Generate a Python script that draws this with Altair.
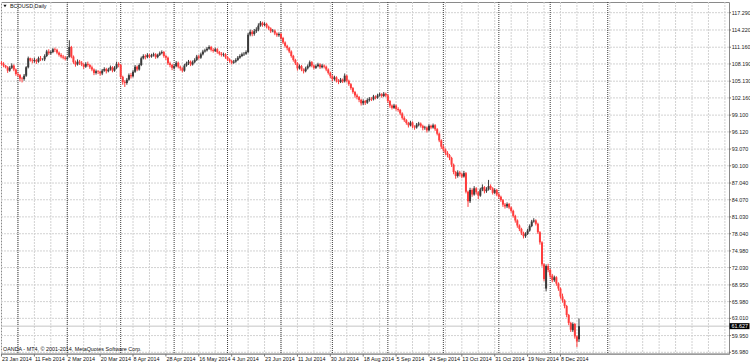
import altair as alt
import pandas as pd

# ---------------- data ----------------
OPEN = [
    108.4, 108.2, 107.9, 107.6, 107.0, 107.5, 107.9, 107.2, 106.4, 106.2,
    105.6, 105.5, 106.1, 107.6, 109.2, 108.8, 108.7, 108.9, 108.6, 109.2,
    109.0, 109.0, 109.6, 110.4, 110.1, 110.3, 110.8, 110.7, 110.2, 109.8,
    109.5, 109.3, 109.1, 109.4, 111.2, 109.5, 108.5, 108.1, 108.6, 108.4,
    108.1, 107.7, 108.2, 108.0, 107.6, 107.2, 106.6, 106.9, 106.8, 106.5,
    107.0, 107.3, 106.9, 107.2, 107.6, 107.0, 107.5, 108.2, 108.0, 105.9,
    105.0, 104.8, 105.4, 106.2, 106.0, 106.8, 107.7, 107.2, 108.0, 109.2,
    109.6, 109.4, 109.8, 109.5, 109.7, 109.9, 109.4, 109.8, 110.1, 110.3,
    109.6, 109.3, 108.3, 108.0, 107.5, 107.8, 108.4, 107.7, 107.4, 107.0,
    107.9, 108.3, 108.6, 108.1, 108.5, 108.9, 109.5, 109.3, 109.9, 110.4,
    110.6, 110.9, 111.2, 110.7, 110.5, 110.8, 110.3, 110.0, 109.8, 109.9,
    109.4, 109.0, 108.7, 108.4, 108.6, 108.9, 109.3, 109.6, 109.9, 110.0,
    110.3, 113.4, 113.9, 113.5, 114.0, 114.3, 115.0, 115.5, 115.1, 115.3,
    114.8, 114.5, 114.0, 114.1, 113.6, 113.3, 113.5, 112.8, 112.0, 111.4,
    111.0, 110.4, 109.6, 108.9, 108.3, 107.4, 107.8, 107.2, 106.9, 107.4,
    107.8, 108.5, 107.9, 107.5, 107.8, 108.1, 107.6, 107.9, 107.7, 107.2,
    106.6, 106.0, 105.5, 105.8, 105.2, 105.0, 105.4, 105.1, 106.1, 105.2,
    104.6, 103.9, 103.2, 102.6, 102.3, 101.8, 101.2, 101.6, 101.3, 101.8,
    102.0, 101.9, 102.4, 102.2, 102.6, 102.8, 102.5, 102.9, 102.6, 101.6,
    100.8, 100.4, 100.8, 100.2, 100.0, 99.4, 98.6, 98.2, 97.7, 97.3,
    97.8, 97.1, 96.9, 97.4, 97.6, 97.2, 96.8, 96.9, 96.4, 97.2,
    96.9, 97.3, 96.6, 95.8, 94.6, 93.5, 93.0, 92.4, 92.0, 91.5,
    90.3, 89.0, 88.3, 88.9, 88.6, 88.2, 88.8, 85.5, 83.8, 85.8,
    85.0, 86.1, 85.4, 84.8, 85.9, 86.3, 85.6, 85.9, 86.5, 86.1,
    85.3, 85.8, 85.0, 84.6, 84.0, 83.2, 82.9, 83.3, 82.7, 82.1,
    81.2, 80.4, 79.5, 78.9, 78.2, 77.6, 78.0, 78.6, 79.4, 80.2,
    80.4, 79.8, 78.3, 76.5, 72.6, 68.3, 72.3, 71.6, 70.6, 69.8,
    70.3, 69.2, 68.3, 66.9, 66.2, 65.2, 63.6, 62.2, 60.9, 62.0,
    59.8, 59.3,
]
HIGH = [
    108.7, 108.5, 108.0, 107.8, 107.8, 108.3, 108.1, 107.4, 106.7, 106.4,
    105.9, 106.4, 107.8, 109.5, 109.3, 109.2, 109.3, 109.1, 109.5, 109.6,
    109.2, 109.9, 110.7, 110.8, 110.6, 111.0, 111.1, 110.9, 110.4, 110.1,
    109.8, 109.6, 109.5, 112.4, 111.4, 109.7, 108.8, 109.0, 108.9, 108.7,
    108.3, 108.5, 108.6, 108.2, 107.9, 107.4, 107.2, 107.1, 107.0, 107.3,
    107.6, 107.5, 107.5, 107.9, 107.8, 107.8, 108.6, 108.5, 108.2, 106.1,
    105.3, 105.7, 106.5, 106.6, 107.1, 108.0, 107.9, 108.3, 109.5, 109.9,
    109.9, 110.1, 110.0, 110.0, 110.2, 110.1, 110.0, 110.4, 110.6, 110.5,
    109.8, 109.5, 108.6, 108.2, 108.1, 108.7, 108.6, 107.9, 107.6, 108.2,
    108.6, 108.9, 108.8, 108.8, 109.2, 109.8, 109.8, 110.2, 110.7, 110.9,
    111.2, 111.5, 111.4, 111.0, 111.1, 111.0, 110.5, 110.3, 110.2, 110.1,
    109.6, 109.2, 108.9, 108.9, 109.2, 109.6, 109.9, 110.2, 110.3, 110.6,
    113.7, 114.3, 114.2, 114.4, 114.7, 115.4, 115.8, 115.7, 115.6, 115.5,
    115.0, 114.7, 114.4, 114.3, 113.8, 113.8, 113.7, 113.0, 112.2, 111.6,
    111.2, 110.6, 109.8, 109.1, 108.5, 108.1, 108.0, 107.4, 107.7, 108.1,
    108.8, 108.7, 108.1, 108.1, 108.4, 108.3, 108.2, 108.1, 107.9, 107.4,
    106.8, 106.2, 106.1, 106.0, 105.5, 105.7, 105.6, 106.5, 106.3, 105.4,
    104.8, 104.1, 103.4, 102.9, 102.5, 102.0, 101.9, 101.8, 102.1, 102.3,
    102.3, 102.7, 102.6, 102.9, 103.1, 103.0, 103.2, 103.1, 102.8, 101.8,
    101.0, 101.1, 101.0, 100.5, 100.2, 99.6, 98.9, 98.4, 97.9, 98.1,
    98.0, 97.3, 97.7, 97.9, 97.8, 97.4, 97.2, 97.1, 97.5, 97.4,
    97.6, 97.5, 96.8, 96.0, 94.8, 93.8, 93.2, 92.7, 92.2, 91.7,
    90.5, 89.2, 89.3, 89.2, 88.9, 89.2, 89.0, 85.7, 86.2, 86.1,
    86.5, 86.3, 85.6, 86.2, 86.8, 86.5, 86.3, 87.6, 86.8, 86.3,
    86.1, 86.0, 85.3, 84.8, 84.2, 83.5, 83.6, 83.5, 82.9, 82.3,
    81.4, 80.6, 79.7, 79.1, 78.4, 78.3, 78.9, 79.7, 80.5, 80.8,
    80.6, 80.0, 78.5, 76.7, 72.8, 72.6, 72.7, 71.8, 70.9, 70.6,
    70.5, 69.4, 68.5, 67.4, 66.4, 65.4, 63.8, 62.4, 62.3, 62.2,
    60.0, 63.0,
]
LOW = [
    107.9, 107.6, 107.4, 106.6, 106.8, 107.3, 106.9, 106.1, 105.9, 105.1,
    104.9, 105.2, 105.9, 107.4, 108.6, 108.3, 108.4, 108.2, 108.4, 108.7,
    108.8, 108.7, 109.4, 109.8, 109.8, 110.1, 110.3, 109.9, 109.5, 109.2,
    109.0, 108.8, 108.9, 109.3, 109.2, 108.2, 107.7, 107.9, 108.0, 107.8,
    107.3, 107.5, 107.7, 107.3, 106.9, 106.2, 106.3, 106.4, 106.1, 106.2,
    106.8, 106.5, 106.7, 107.0, 106.7, 106.8, 107.3, 107.6, 105.6, 104.5,
    104.1, 104.5, 105.2, 105.6, 105.8, 106.6, 106.9, 107.0, 107.8, 109.0,
    109.0, 109.2, 109.2, 109.3, 109.5, 109.1, 109.2, 109.6, 109.9, 109.3,
    108.9, 108.0, 107.6, 107.1, 107.2, 107.6, 107.4, 107.0, 106.7, 106.8,
    107.7, 108.0, 107.8, 107.9, 108.3, 108.7, 109.0, 109.1, 109.7, 110.2,
    110.4, 110.7, 110.4, 110.2, 110.3, 110.0, 109.7, 109.5, 109.5, 109.1,
    108.7, 108.4, 108.1, 108.2, 108.4, 108.7, 109.1, 109.4, 109.6, 109.8,
    110.1, 113.1, 113.1, 113.2, 113.7, 114.0, 114.8, 114.8, 114.9, 114.5,
    114.2, 113.7, 113.8, 113.3, 113.0, 113.0, 112.5, 111.7, 111.1, 110.6,
    110.1, 109.3, 108.6, 108.0, 107.0, 107.2, 106.9, 106.5, 106.7, 107.2,
    107.6, 107.6, 107.2, 107.3, 107.6, 107.3, 107.4, 107.4, 106.9, 106.3,
    105.7, 105.1, 105.2, 104.9, 104.6, 104.8, 104.8, 104.9, 104.9, 104.3,
    103.6, 102.9, 102.2, 101.9, 101.4, 100.8, 100.9, 100.9, 101.1, 101.5,
    101.6, 101.7, 101.9, 102.0, 102.4, 102.2, 102.3, 102.3, 101.3, 100.4,
    100.1, 100.2, 99.9, 99.7, 99.1, 98.3, 97.9, 97.4, 96.9, 97.1,
    96.8, 96.5, 96.7, 97.1, 96.9, 96.4, 96.5, 96.0, 96.2, 96.6,
    96.7, 96.3, 95.5, 94.3, 93.1, 92.6, 92.0, 91.6, 91.1, 89.9,
    88.6, 87.8, 88.0, 88.2, 87.9, 88.0, 85.2, 82.8, 83.5, 84.6,
    84.8, 85.0, 84.2, 84.6, 85.6, 85.2, 85.3, 85.7, 85.8, 85.0,
    85.1, 84.7, 84.2, 83.7, 82.8, 82.5, 82.6, 82.4, 81.8, 80.9,
    80.0, 79.1, 78.5, 77.8, 77.2, 77.3, 77.8, 78.4, 79.2, 80.0,
    79.5, 78.0, 76.1, 72.2, 69.6, 67.8, 71.2, 70.2, 69.4, 69.5,
    68.8, 67.9, 66.5, 65.8, 64.8, 63.2, 61.8, 60.6, 60.6, 59.4,
    57.9, 58.8,
]
CLOSE = [
    108.2, 107.9, 107.6, 107.0, 107.5, 107.9, 107.2, 106.4, 106.2, 105.6,
    105.5, 106.1, 107.6, 109.2, 108.8, 108.7, 108.9, 108.6, 109.2, 109.0,
    109.0, 109.6, 110.4, 110.1, 110.3, 110.8, 110.7, 110.2, 109.8, 109.5,
    109.3, 109.1, 109.3, 111.2, 109.5, 108.5, 108.1, 108.6, 108.4, 108.1,
    107.7, 108.2, 108.0, 107.6, 107.2, 106.6, 106.9, 106.8, 106.5, 107.0,
    107.3, 106.9, 107.2, 107.6, 107.0, 107.5, 108.2, 108.0, 105.9, 105.0,
    104.8, 105.4, 106.2, 106.0, 106.8, 107.7, 107.2, 108.0, 109.2, 109.6,
    109.4, 109.8, 109.5, 109.7, 109.9, 109.4, 109.8, 110.1, 110.3, 109.6,
    109.3, 108.3, 108.0, 107.5, 107.8, 108.4, 107.7, 107.4, 107.0, 107.9,
    108.3, 108.6, 108.1, 108.5, 108.9, 109.5, 109.3, 109.9, 110.4, 110.6,
    110.9, 111.2, 110.7, 110.5, 110.8, 110.3, 110.0, 109.8, 109.9, 109.4,
    109.0, 108.7, 108.4, 108.6, 108.9, 109.3, 109.6, 109.9, 110.0, 110.3,
    113.4, 113.9, 113.5, 114.0, 114.3, 115.0, 115.5, 115.1, 115.3, 114.8,
    114.5, 114.0, 114.1, 113.6, 113.3, 113.5, 112.8, 112.0, 111.4, 111.0,
    110.4, 109.6, 108.9, 108.3, 107.4, 107.8, 107.2, 106.9, 107.4, 107.8,
    108.5, 107.9, 107.5, 107.8, 108.1, 107.6, 107.9, 107.7, 107.2, 106.6,
    106.0, 105.5, 105.8, 105.2, 105.0, 105.4, 105.1, 106.1, 105.2, 104.6,
    103.9, 103.2, 102.6, 102.3, 101.8, 101.2, 101.6, 101.3, 101.8, 102.0,
    101.9, 102.4, 102.2, 102.6, 102.8, 102.5, 102.9, 102.6, 101.6, 100.8,
    100.4, 100.8, 100.2, 100.0, 99.4, 98.6, 98.2, 97.7, 97.3, 97.8,
    97.1, 96.9, 97.4, 97.6, 97.2, 96.8, 96.9, 96.4, 97.2, 96.9,
    97.3, 96.6, 95.8, 94.6, 93.5, 93.0, 92.4, 92.0, 91.5, 90.3,
    89.0, 88.3, 88.9, 88.6, 88.2, 88.8, 85.5, 83.8, 85.8, 85.0,
    86.1, 85.4, 84.8, 85.9, 86.3, 85.6, 85.9, 86.5, 86.1, 85.3,
    85.8, 85.0, 84.6, 84.0, 83.2, 82.9, 83.3, 82.7, 82.1, 81.2,
    80.4, 79.5, 78.9, 78.2, 77.6, 78.0, 78.6, 79.4, 80.2, 80.4,
    79.8, 78.3, 76.5, 72.6, 70.0, 72.3, 71.6, 70.6, 69.8, 70.3,
    69.2, 68.3, 66.9, 66.2, 65.2, 63.6, 62.2, 61.0, 62.0, 59.8,
    58.9, 61.627,
]

Y_TICKS = [117.29, 114.22, 111.16, 108.19, 105.13, 102.16, 99.10, 96.12,
           93.07, 90.10, 87.04, 84.07, 81.03, 78.04, 74.98, 72.03, 68.95,
           65.98, 63.01, 59.95, 56.98]
DATE_LABELS = ["23 Jan 2014", "11 Feb 2014", "2 Mar 2014", "20 Mar 2014",
               "8 Apr 2014", "28 Apr 2014", "16 May 2014", "4 Jun 2014",
               "23 Jun 2014", "11 Jul 2014", "30 Jul 2014", "18 Aug 2014",
               "5 Sep 2014", "24 Sep 2014", "13 Oct 2014", "31 Oct 2014",
               "19 Nov 2014", "8 Dec 2014"]
LABEL_STEP = 16          # bars between date labels
GRID_STEP = 8            # bars between vertical grid lines
MONTH_SEP_BARS = [8, 32, 58, 84, 110, 136, 161, 188, 215, 242, 267, 295]
LAST_PRICE = 61.627
SYMBOL = "BCOUSD,Daily"
COPYRIGHT = "OANDA - MT4, \u00a9 2001-2014, MetaQuotes Software Corp."

# ---------------- frames ----------------
n = len(CLOSE)
df = pd.DataFrame({"bar": list(range(n)), "open": OPEN, "high": HIGH,
                   "low": LOW, "close": CLOSE})
df["dir"] = ["up" if c >= o else "down" for o, c in zip(df["open"], df["close"])]

labels_df = pd.DataFrame({"bar": [i * LABEL_STEP for i in range(len(DATE_LABELS))],
                          "label": DATE_LABELS})
yticks_df = pd.DataFrame({"p": Y_TICKS})

FONT = "Liberation Sans"
FS = 5.4
W, H = 728, 352
xscale = alt.Scale(domain=[-0.243, 354.0], nice=False, zero=False)
yscale = alt.Scale(domain=[56.68, 119.19], nice=False, zero=False)


def X(field):
    return alt.X(field, scale=xscale, axis=None)


def Y(field):
    return alt.Y(field, scale=yscale, axis=None)


hgrid = alt.Chart(yticks_df).mark_rule(
    color="#d2d2d2", strokeWidth=1, strokeDash=[2, 1]
).encode(y=Y("p:Q"))

vgrid = alt.Chart(pd.DataFrame({"b": list(range(0, 355, GRID_STEP))})).mark_rule(
    color="#d2d2d2", strokeWidth=1, strokeDash=[2, 1]
).encode(x=X("b:Q"))

seps = alt.Chart(pd.DataFrame({"b": MONTH_SEP_BARS})).mark_rule(
    color="#3c3c3c", strokeWidth=1, strokeDash=[1, 1]
).encode(x=X("b:Q"))

last_line = alt.Chart(pd.DataFrame({"p": [LAST_PRICE]})).mark_rule(
    color="#c4c4c4", strokeWidth=1
).encode(y=Y("p:Q"))

wick_col = alt.Color("dir:N", scale=alt.Scale(domain=["up", "down"],
                                              range=["#3a3a3a", "#ff3c3c"]), legend=None)
body_col = alt.Color("dir:N", scale=alt.Scale(domain=["up", "down"],
                                              range=["#2a7a2a", "#ff0f0f"]), legend=None)

wicks = alt.Chart(df).mark_rule(strokeWidth=1).encode(
    x=X("bar:Q"), y=Y("low:Q"), y2="high:Q", color=wick_col)

bodies = alt.Chart(df).mark_rule(strokeWidth=2).encode(
    x=X("bar:Q"), y=Y("open:Q"), y2="close:Q", color=body_col)

# bottom axis line, ticks and date labels
bottom_line = alt.Chart(pd.DataFrame({"p": [0]})).mark_rule(
    color="#a0a0a0", strokeWidth=1.5
).encode(x=alt.value(0), x2=alt.value(W), y=alt.value(H))

x_ticks = alt.Chart(labels_df).mark_rule(color="#777", strokeWidth=1).encode(
    x=X("bar:Q"), y=alt.value(H), y2=alt.value(H + 2.5))

x_labels = alt.Chart(labels_df).mark_text(
    align="left", baseline="middle", fontSize=FS, font=FONT, color="#111", dx=0.5
).encode(x=X("bar:Q"), y=alt.value(H + 4.8), text="label:N")

# right price axis ticks and labels
y_ticks = alt.Chart(yticks_df).mark_rule(color="#777", strokeWidth=1).encode(
    y=Y("p:Q"), x=alt.value(W), x2=alt.value(W + 2))

y_labels = alt.Chart(yticks_df).mark_text(
    align="left", baseline="middle", fontSize=FS, font=FONT, color="#222"
).encode(y=Y("p:Q"), x=alt.value(W + 2.7), text=alt.Text("p:Q", format=".3f"))

title_tri = alt.Chart(pd.DataFrame({"t": [SYMBOL]})).mark_point(
    shape="triangle-down", filled=True, color="#111", size=10, opacity=1
).encode(x=alt.value(4), y=alt.value(4))

title_txt = alt.Chart(pd.DataFrame({"t": [SYMBOL]})).mark_text(
    align="left", baseline="middle", fontSize=FS, font=FONT, color="#111"
).encode(text="t:N", x=alt.value(9), y=alt.value(4))

copy_txt = alt.Chart(pd.DataFrame({"t": [COPYRIGHT]})).mark_text(
    align="left", baseline="middle", fontSize=FS, font=FONT, color="#111"
).encode(text="t:N", x=alt.value(2), y=alt.value(347))

price_box = alt.Chart(pd.DataFrame({"p": [LAST_PRICE]})).mark_point(
    shape="M-1,-0.3L1,-0.3L1,0.3L-1,0.3Z", size=400, filled=True,
    color="#000", opacity=1
).encode(x=alt.value(738.5), y=Y("p:Q"))

price_txt = alt.Chart(pd.DataFrame({"p": [LAST_PRICE]})).mark_text(
    align="left", baseline="middle", fontSize=FS, font=FONT, color="#fff"
).encode(x=alt.value(730.5), y=Y("p:Q"), text=alt.Text("p:Q", format=".3f"))

chart = alt.layer(
    hgrid, vgrid, seps, last_line, wicks, bodies,
    bottom_line, x_ticks, x_labels, y_ticks, y_labels,
    title_tri, title_txt, copy_txt, price_box, price_txt
).properties(
    width=W, height=H,
    autosize=alt.AutoSizeParams(type="none"),
    padding={"left": 1, "top": 2, "right": 21, "bottom": 9},
    background="white",
).configure_view(stroke="#8a8a8a", strokeWidth=1)

chart.save("out.html", embed_options={"renderer": "svg", "actions": False})
